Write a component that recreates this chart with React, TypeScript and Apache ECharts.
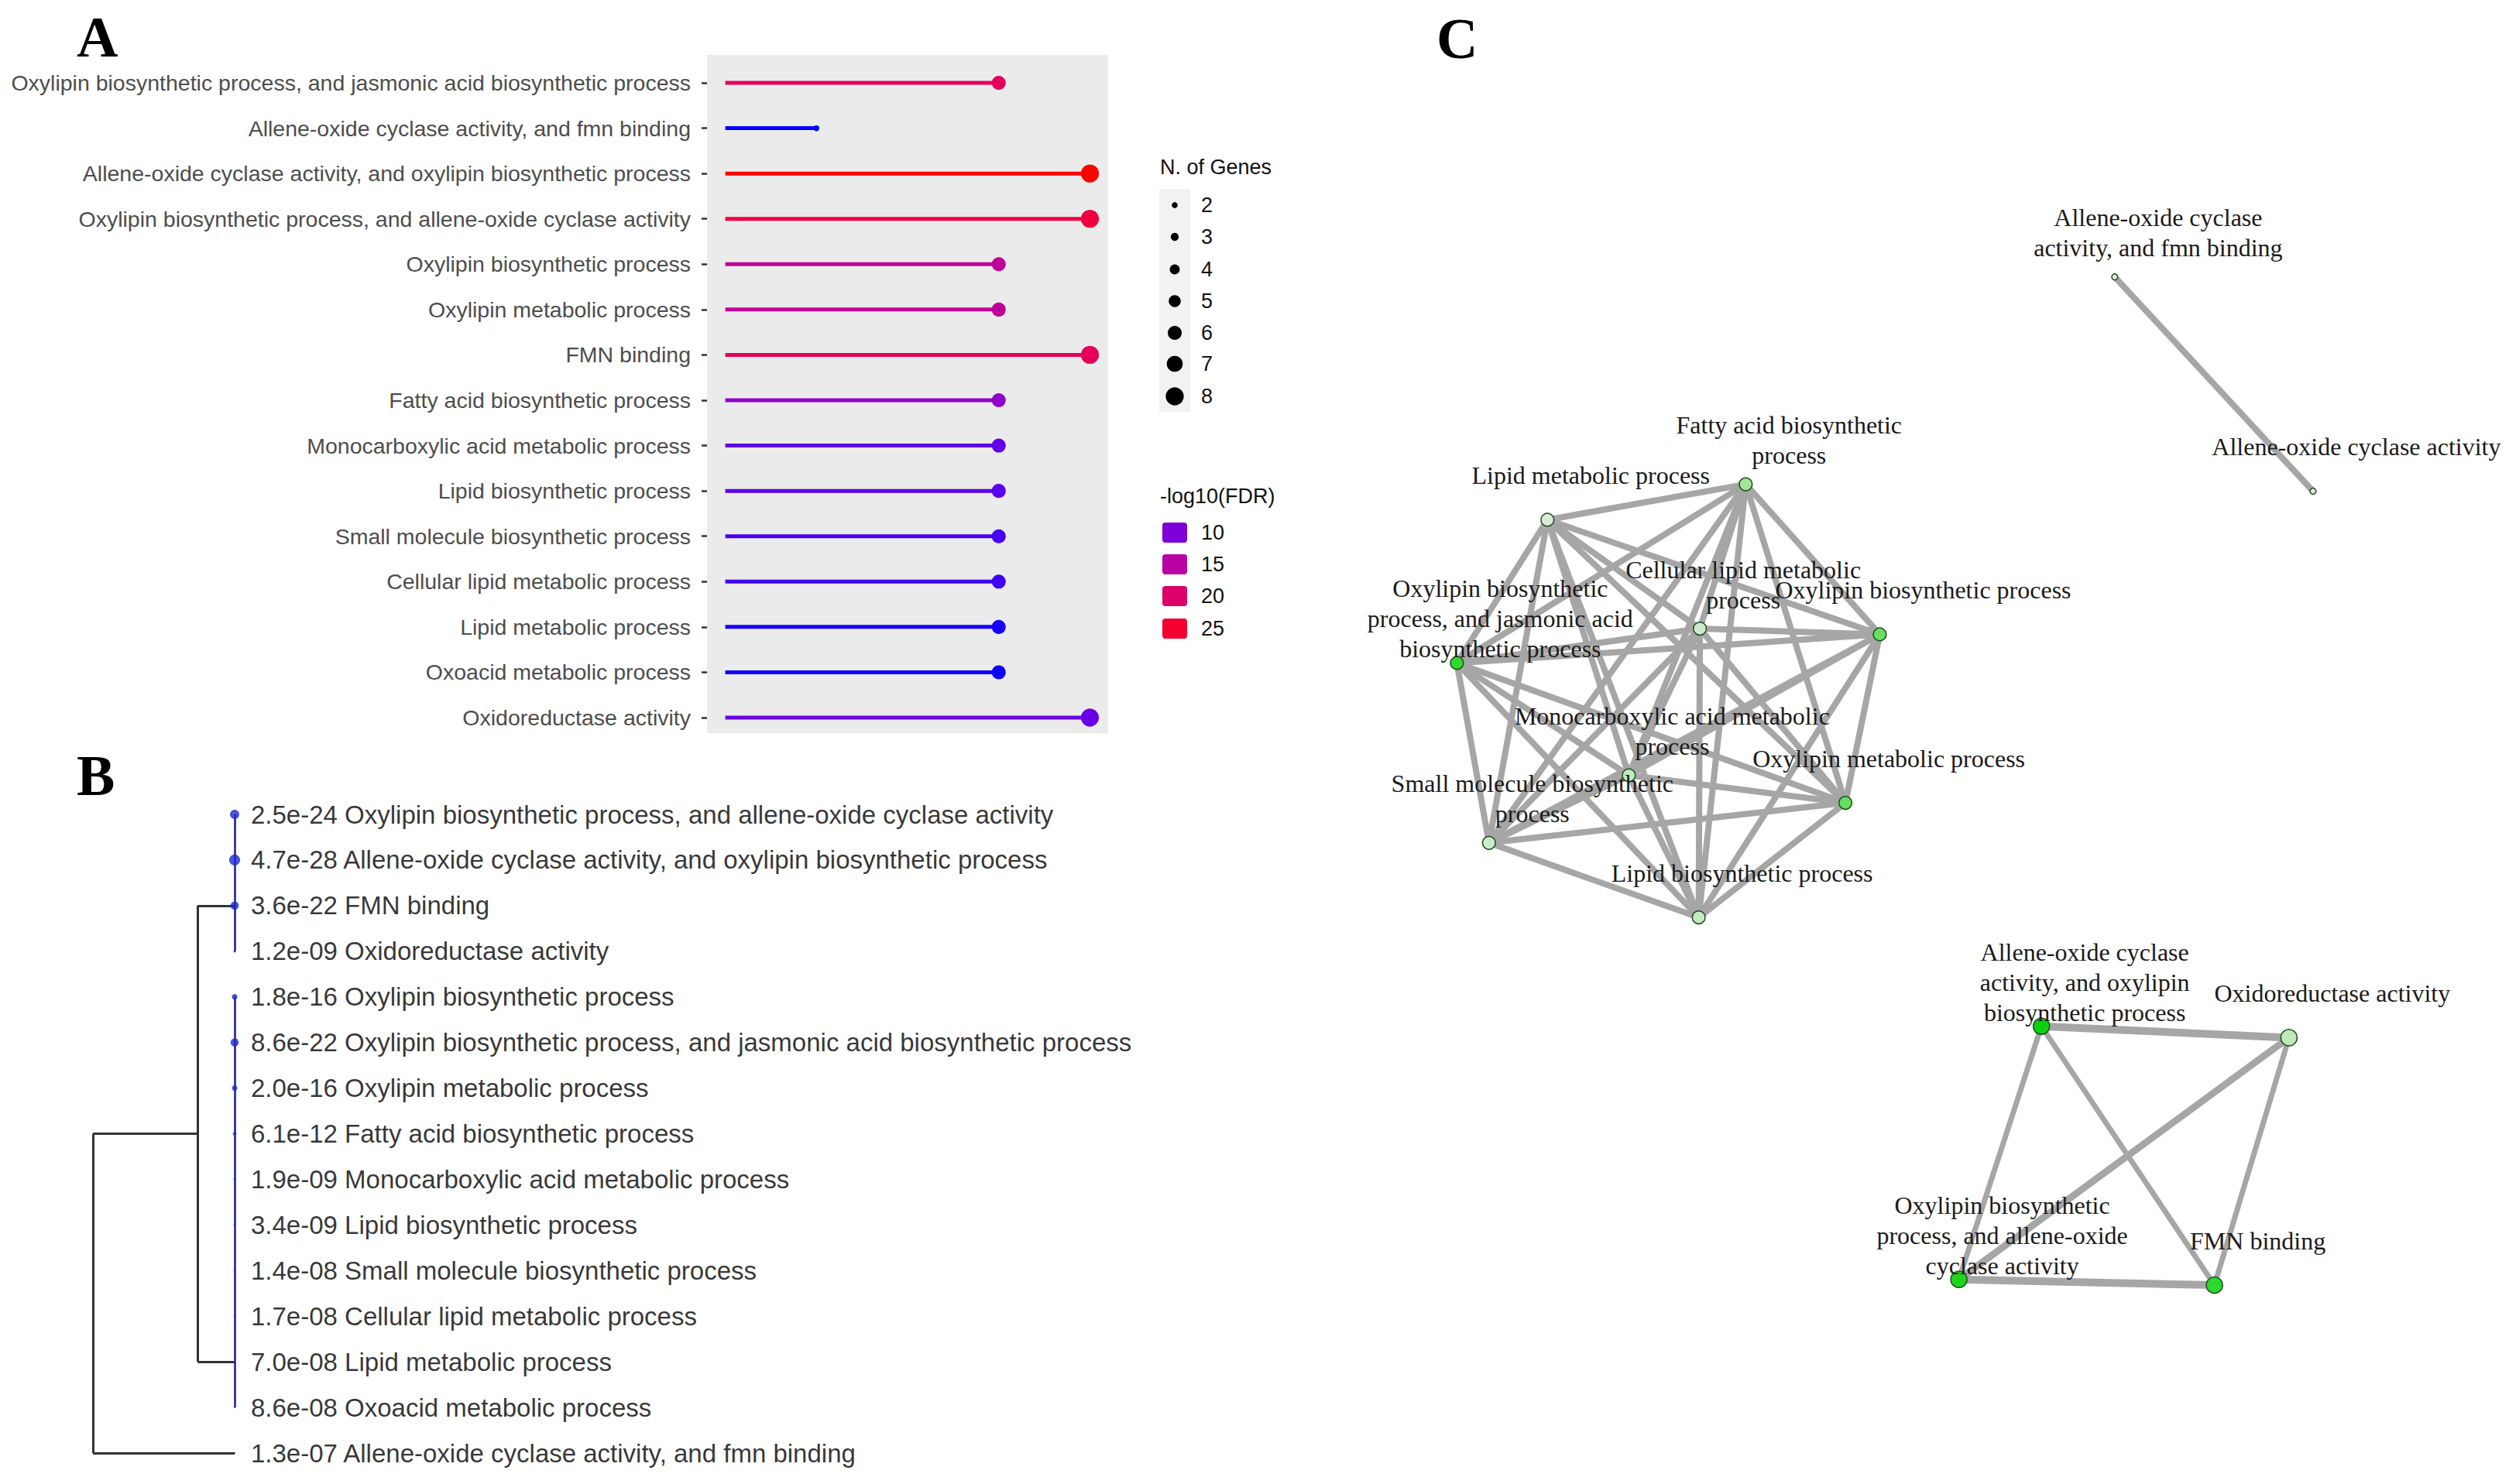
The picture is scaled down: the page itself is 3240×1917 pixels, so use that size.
import React, { useEffect, useRef } from 'react';
import * as echarts from 'echarts';

// ---------- DATA ----------
const terms = [
  'Oxylipin biosynthetic process, and jasmonic acid biosynthetic process',
  'Allene-oxide cyclase activity, and fmn binding',
  'Allene-oxide cyclase activity, and oxylipin biosynthetic process',
  'Oxylipin biosynthetic process, and allene-oxide cyclase activity',
  'Oxylipin biosynthetic process',
  'Oxylipin metabolic process',
  'FMN binding',
  'Fatty acid biosynthetic process',
  'Monocarboxylic acid metabolic process',
  'Lipid biosynthetic process',
  'Small molecule biosynthetic process',
  'Cellular lipid metabolic process',
  'Lipid metabolic process',
  'Oxoacid metabolic process',
  'Oxidoreductase activity',
];
const geneCounts = [6, 2, 8, 8, 6, 6, 8, 6, 6, 6, 6, 6, 6, 6, 8];
const fdrText = [
  '8.6e-22', '1.3e-07', '4.7e-28', '2.5e-24', '1.8e-16', '2.0e-16', '3.6e-22', '6.1e-12',
  '1.9e-09', '3.4e-09', '1.4e-08', '1.7e-08', '7.0e-08', '8.6e-08', '1.2e-09',
];
const sizeLegendValues = [2, 3, 4, 5, 6, 7, 8];
const colorLegendValues = [10, 15, 20, 25];

// Panel B dendrogram (rows in tree order, indices into terms)
const treeOrder = [3, 2, 6, 14, 4, 0, 5, 7, 8, 9, 10, 11, 12, 13, 1];
const treeClusters = [
  [0, 1, 2, 3],
  [4, 5, 6, 7, 8, 9, 10, 11, 12, 13],
];
const clusterAnchorRows = [2, 12];
const clusterMergeHeight = 0.26;
const rootHeight = 1.0;
const outlierRow = 14;

// Panel C network
const netTermIndex = [7, 12, 0, 11, 4, 8, 5, 10, 9, 1, -1, 2, 14, 3, 6];
const netLabels = [
  'Fatty acid biosynthetic\nprocess',
  'Lipid metabolic process',
  'Oxylipin biosynthetic\nprocess, and jasmonic acid\nbiosynthetic process',
  'Cellular lipid metabolic\nprocess',
  'Oxylipin biosynthetic process',
  'Monocarboxylic acid metabolic\nprocess',
  'Oxylipin metabolic process',
  'Small molecule biosynthetic\nprocess',
  'Lipid biosynthetic process',
  'Allene-oxide cyclase\nactivity, and fmn binding',
  'Allene-oxide cyclase activity',
  'Allene-oxide cyclase\nactivity, and oxylipin\nbiosynthetic process',
  'Oxidoreductase activity',
  'Oxylipin biosynthetic\nprocess, and allene-oxide\ncyclase activity',
  'FMN binding',
];
const netX = [33.4, 16.1, 8.2, 29.4, 45.1, 23.2, 42.1, 11.0, 29.3, 65.6, 82.9, 59.2, 80.8, 52.0, 74.3];
const netY = [22.0, 25.1, 37.6, 34.6, 35.1, 47.4, 49.8, 53.3, 59.8, 3.9, 22.6, 69.3, 70.3, 91.4, 91.9];
const netLinks: [number, number, number][] = [
  [0, 1, 8], [0, 2, 8], [0, 3, 8], [0, 4, 8], [0, 5, 8], [0, 6, 8], [0, 7, 8], [0, 8, 8],
  [1, 2, 8], [1, 3, 8], [1, 4, 8], [1, 5, 8], [1, 6, 8], [1, 7, 8], [1, 8, 8],
  [2, 3, 8], [2, 4, 8], [2, 5, 8], [2, 6, 8], [2, 7, 8], [2, 8, 8],
  [3, 4, 8], [3, 5, 8], [3, 6, 8], [3, 7, 8], [3, 8, 8],
  [4, 5, 8], [4, 6, 8], [4, 7, 8], [4, 8, 8],
  [5, 6, 8], [5, 7, 8], [5, 8, 8],
  [6, 7, 8], [6, 8, 8],
  [7, 8, 8],
  [9, 10, 8],
  [11, 12, 10], [11, 13, 7], [11, 14, 7], [12, 13, 9], [12, 14, 7], [13, 14, 10],
];

// ---------- HELPERS ----------
const logFdr = fdrText.map((s) => -Math.log10(parseFloat(s)));
const fdrMin = Math.min(...logFdr);
const fdrMax = Math.max(...logFdr);

function hexToRgb(h: string) {
  const n = parseInt(h.slice(1), 16);
  return [(n >> 16) & 255, (n >> 8) & 255, n & 255];
}
const toLin = (c: number) => {
  const v = c / 255;
  return v <= 0.04045 ? v / 12.92 : Math.pow((v + 0.055) / 1.055, 2.4);
};
const fromLin = (c: number) => {
  const v = c <= 0.0031308 ? 12.92 * c : 1.055 * Math.pow(c, 1 / 2.4) - 0.055;
  return Math.round(Math.max(0, Math.min(1, v)) * 255);
};
const labF = (t: number) => (t > 0.008856 ? Math.cbrt(t) : 7.787 * t + 16 / 116);
const labFi = (t: number) => (t * t * t > 0.008856 ? t * t * t : (t - 16 / 116) / 7.787);
function hexToLab(h: string) {
  const [r, g, b] = hexToRgb(h).map(toLin);
  const X = (0.4124 * r + 0.3576 * g + 0.1805 * b) / 0.95047;
  const Y = 0.2126 * r + 0.7152 * g + 0.0722 * b;
  const Z = (0.0193 * r + 0.1192 * g + 0.9505 * b) / 1.08883;
  const fx = labF(X), fy = labF(Y), fz = labF(Z);
  return [116 * fy - 16, 500 * (fx - fy), 200 * (fy - fz)];
}
function labToHex(L: number, a: number, bb: number) {
  const fy = (L + 16) / 116, fx = fy + a / 500, fz = fy - bb / 200;
  const X = labFi(fx) * 0.95047, Y = labFi(fy), Z = labFi(fz) * 1.08883;
  const r = 3.2406 * X - 1.5372 * Y - 0.4986 * Z;
  const g = -0.9689 * X + 1.8758 * Y + 0.0415 * Z;
  const b = 0.0557 * X - 0.204 * Y + 1.057 * Z;
  return '#' + [r, g, b].map((c) => fromLin(c).toString(16).padStart(2, '0')).join('');
}
function labGradient(low: string, high: string, n: number) {
  const a = hexToLab(low), b = hexToLab(high);
  const out: string[] = [];
  for (let i = 0; i < n; i++) {
    const t = i / (n - 1);
    out.push(labToHex(a[0] + (b[0] - a[0]) * t, a[1] + (b[1] - a[1]) * t, a[2] + (b[2] - a[2]) * t));
  }
  return out;
}
function scaleColor(stops: string[], t: number) {
  const tt = Math.max(0, Math.min(1, t));
  const seg = (stops.length - 1) * tt;
  const i = Math.min(stops.length - 2, Math.floor(seg));
  const f = seg - i;
  const a = hexToRgb(stops[i]);
  const b = hexToRgb(stops[i + 1]);
  const c = a.map((v, k) => Math.round(v + (b[k] - v) * f));
  return `rgb(${c[0]},${c[1]},${c[2]})`;
}
const fdrStops = labGradient('#0000FF', '#FF0000', 21);
const greenStops = ['#dcebdc', '#a2e69a', '#6ddf69', '#3cda3c', '#1ed61e', '#0cd00c'];
const fdrColor = (v: number) => scaleColor(fdrStops, (v - fdrMin) / (fdrMax - fdrMin));
const greenColor = (v: number) => scaleColor(greenStops, (v - fdrMin) / (fdrMax - fdrMin));
const geneSize = (n: number) => 2.6 * n + 2.5;
const netSize = (n: number) => 2.2 * n + 3.4;
const treeDotSize = (v: number) => Math.max(1.5, (v - 7) * 0.6 + 2);

const SANS = '"Liberation Sans", Arial, sans-serif';
const SERIF = '"Liberation Serif", "Times New Roman", serif';

// tree segments built from the dendrogram description
const leafLine = '#1a1a90';
const branchLine = '#333333';
const treeSegments: { coords: number[][]; color: string; width: number }[] = [];
treeClusters.forEach((rows, k) => {
  treeSegments.push({ coords: [[0, rows[0]], [0, rows[rows.length - 1]]], color: leafLine, width: 2.5 });
  treeSegments.push({
    coords: [[0, clusterAnchorRows[k]], [clusterMergeHeight, clusterAnchorRows[k]]],
    color: branchLine,
    width: 3,
  });
});
const midRow = (clusterAnchorRows[0] + clusterAnchorRows[1]) / 2;
treeSegments.push({
  coords: [[clusterMergeHeight, clusterAnchorRows[0]], [clusterMergeHeight, clusterAnchorRows[1]]],
  color: branchLine,
  width: 3,
});
treeSegments.push({ coords: [[clusterMergeHeight, midRow], [rootHeight, midRow]], color: branchLine, width: 3 });
treeSegments.push({ coords: [[0, outlierRow], [rootHeight, outlierRow]], color: branchLine, width: 3 });
treeSegments.push({ coords: [[rootHeight, midRow], [rootHeight, outlierRow]], color: branchLine, width: 3 });

function txt(x: number, y: number, text: string, font: string, fill = '#111') {
  return {
    type: 'text',
    x,
    y,
    style: { text, font, fill, align: 'left', verticalAlign: 'middle', textAlign: 'left', textVerticalAlign: 'middle' },
  };
}

function buildOption() {
  const sizeLegendY = [265, 306, 348, 389, 430, 470, 512];
  const colorLegendY = [688, 729, 770, 812];
  const graphic: any[] = [
    { type: 'rect', z: -1, shape: { x: 913, y: 71, width: 518, height: 876 }, style: { fill: '#ebebeb' } },
    txt(99, 48, 'A', `bold 74px ${SERIF}`, '#000'),
    txt(99, 1002, 'B', `bold 74px ${SERIF}`, '#000'),
    txt(1855, 50, 'C', `bold 74px ${SERIF}`, '#000'),
    txt(1498, 216, 'N. of Genes', `27px ${SANS}`),
    { type: 'rect', shape: { x: 1497, y: 244, width: 40, height: 288 }, style: { fill: '#f2f2f2' } },
    txt(1498, 641, '-log10(FDR)', `27px ${SANS}`),
  ];
  sizeLegendValues.forEach((n, i) => {
    graphic.push({ type: 'circle', shape: { cx: 1517, cy: sizeLegendY[i], r: geneSize(n) / 2 }, style: { fill: '#000' } });
    graphic.push(txt(1551, sizeLegendY[i], String(n), `27px ${SANS}`));
  });
  colorLegendValues.forEach((v, i) => {
    graphic.push({ type: 'rect', shape: { x: 1501, y: colorLegendY[i] - 13, width: 32, height: 26, r: 4 }, style: { fill: fdrColor(v) } });
    graphic.push(txt(1551, colorLegendY[i], String(v), `27px ${SANS}`));
  });

  const netNodes = netTermIndex.map((ti, i) => {
    const genes = ti >= 0 ? geneCounts[ti] : 2;
    const lf = ti >= 0 ? logFdr[ti] : logFdr[1];
    return {
      name: netLabels[i],
      value: [netX[i], netY[i]],
      symbolSize: netSize(genes),
      itemStyle: { color: greenColor(lf), borderColor: '#1d4a1d', borderWidth: 1.5 },
    };
  });

  return {
    animation: false,
    backgroundColor: '#ffffff',
    textStyle: { fontFamily: SANS },
    grid: [
      { left: 913, top: 77.7, width: 518, height: 878.6 },
      { left: 120, top: 1052, width: 183, height: 825 },
      { left: 1760, top: 300, width: 1480, height: 1480 },
    ],
    xAxis: [
      { gridIndex: 0, type: 'value', min: -0.4, max: 8.4, show: false },
      { gridIndex: 1, type: 'value', min: 0, max: 1, inverse: true, show: false },
      { gridIndex: 2, type: 'value', min: 0, max: 100, show: false },
    ],
    yAxis: [
      {
        gridIndex: 0,
        type: 'category',
        data: terms,
        inverse: true,
        axisLine: { show: false, onZero: false },
        axisTick: { show: true, alignWithLabel: true, length: 7, lineStyle: { color: '#333', width: 2.5 } },
        axisLabel: { interval: 0, margin: 21, fontSize: 28.5, color: '#4d4d4d', fontFamily: SANS },
        splitLine: { show: false },
      },
      { gridIndex: 1, type: 'value', min: 0, max: 14, inverse: true, show: false },
      { gridIndex: 2, type: 'value', min: 0, max: 100, inverse: true, show: false },
    ],
    visualMap: [
      {
        type: 'continuous',
        show: false,
        seriesIndex: [0, 1],
        dimension: 2,
        min: fdrMin,
        max: fdrMax,
        inRange: { color: fdrStops },
      },
    ],
    graphic,
    series: [
      {
        type: 'bar',
        xAxisIndex: 0,
        yAxisIndex: 0,
        barWidth: 5,
        silent: true,
        encode: { x: 0, y: 1 },
        data: terms.map((t, i) => [geneCounts[i], t, logFdr[i]]),
        z: 2,
      },
      {
        type: 'scatter',
        xAxisIndex: 0,
        yAxisIndex: 0,
        silent: true,
        clip: false,
        encode: { x: 0, y: 1 },
        symbolSize: (v: any) => geneSize(v[3]),
        data: terms.map((t, i) => [geneCounts[i], t, logFdr[i], geneCounts[i]]),
        itemStyle: { opacity: 1 },
        z: 3,
      },
      {
        type: 'lines',
        coordinateSystem: 'cartesian2d',
        xAxisIndex: 1,
        yAxisIndex: 1,
        silent: true,
        clip: false,
        polyline: false,
        lineStyle: { opacity: 1, curveness: 0 },
        data: treeSegments.map((s) => ({ coords: s.coords, lineStyle: { color: s.color, width: s.width, opacity: 1 } })),
        z: 2,
      },
      {
        type: 'scatter',
        xAxisIndex: 1,
        yAxisIndex: 1,
        silent: true,
        clip: false,
        z: 3,
        data: treeOrder.map((ti, row) => ({
          value: [0, row],
          symbolSize: treeDotSize(logFdr[ti]),
          itemStyle: { color: '#1a28d0' },
          label: {
            show: true,
            position: 'inside',
            align: 'left',
            verticalAlign: 'middle',
            offset: [21, 0],
            formatter: `${fdrText[ti]} ${terms[ti]}`,
            fontSize: 33,
            color: '#000',
            fontFamily: SANS,
          },
        })),
      },
      {
        type: 'graph',
        layout: 'none',
        coordinateSystem: 'cartesian2d',
        xAxisIndex: 2,
        yAxisIndex: 2,
        silent: true,
        roam: false,
        symbol: 'circle',
        data: netNodes,
        links: netLinks.map(([s, t, w]) => ({ source: s, target: t, lineStyle: { width: w } })),
        lineStyle: { color: '#a6a6a6', opacity: 1, curveness: 0 },
        label: {
          show: true,
          position: 'inside',
          offset: [56, -57],
          align: 'center',
          verticalAlign: 'middle',
          fontFamily: SERIF,
          fontSize: 32,
          lineHeight: 39,
          color: '#1a1a1a',
        },
        z: 2,
      },
    ],
  };
}

export default function App() {
  const ref = useRef<HTMLDivElement>(null);
  useEffect(() => {
    if (!ref.current) return;
    const chart = echarts.init(ref.current, null, { renderer: 'svg', width: 3240, height: 1917 });
    chart.setOption(buildOption() as any);
    return () => chart.dispose();
  }, []);
  return (
    <div
      ref={ref}
      style={{ position: 'absolute', left: 0, top: 0, width: 3240, height: 1917, background: '#fff' }}
    />
  );
}
